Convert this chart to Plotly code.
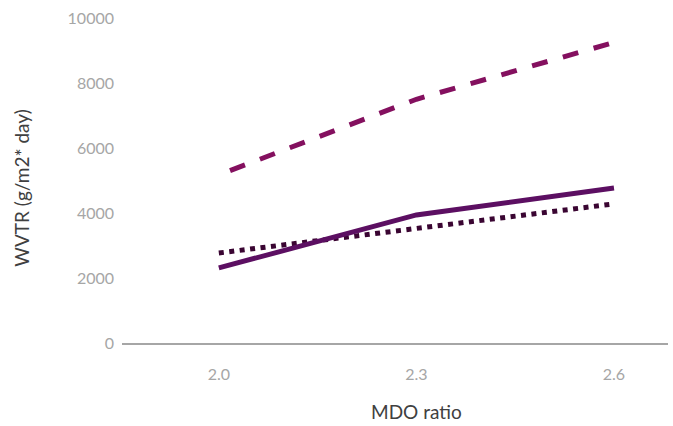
import plotly.graph_objects as go

mdo_ratio = [2.0, 2.3, 2.6]
tick_labels = ["2.0", "2.3", "2.6"]
y_ticks = [0, 2000, 4000, 6000, 8000, 10000]
y_tick_labels = ["0", "2000", "4000", "6000", "8000", "10000"]
series_solid = [2310, 3940, 4770]
series_dashed = [5170, 7500, 9250]
series_dotted = [2770, 3510, 4280]

fig = go.Figure()
fig.add_trace(go.Scatter(x=mdo_ratio, y=series_dashed, mode="lines",
                         line=dict(color="#84105F", width=5, dash="0px,12px,16px,4px"),
                         showlegend=False, hoverinfo="skip"))
fig.add_trace(go.Scatter(x=mdo_ratio, y=series_dotted, mode="lines",
                         line=dict(color="#3A0532", width=5, dash="5px,5.5px"),
                         showlegend=False, hoverinfo="skip"))
fig.add_trace(go.Scatter(x=mdo_ratio, y=series_solid, mode="lines",
                         line=dict(color="#5C0F62", width=5),
                         showlegend=False, hoverinfo="skip"))

fig.update_layout(
    width=673, height=426,
    margin=dict(l=122, r=5, t=18, b=83),
    paper_bgcolor="white", plot_bgcolor="white",
    font=dict(family="Lato, sans-serif"),
    xaxis=dict(range=[1.853, 2.682], tickvals=mdo_ratio, ticktext=tick_labels,
               showgrid=False, zeroline=False, showline=True, linecolor="#A6A6A6", linewidth=2,
               ticks="", tickfont=dict(size=16, color="#A6A6A6"), ticklabelstandoff=16,
               automargin=False),
    yaxis=dict(range=[0, 10000], tickvals=y_ticks, ticktext=y_tick_labels,
               showgrid=False, zeroline=False, showline=False, ticks="",
               tickfont=dict(size=16, color="#A6A6A6"), ticklabelstandoff=7,
               automargin=False),
    annotations=[
        dict(text="MDO ratio", xref="x", yref="paper", x=2.3, y=-0.21, yanchor="middle",
             showarrow=False, font=dict(size=19, color="#404040")),
        dict(text="WVTR (g/m2* day)", xref="paper", yref="paper", x=-0.183, xanchor="center",
             y=0.475, yanchor="middle", textangle=-90,
             showarrow=False, font=dict(size=19, color="#404040")),
    ],
)
fig.write_html("out.html", config={"responsive": False, "displayModeBar": False},
               post_script="document.body.style.margin='0';document.body.style.overflow='hidden';")
